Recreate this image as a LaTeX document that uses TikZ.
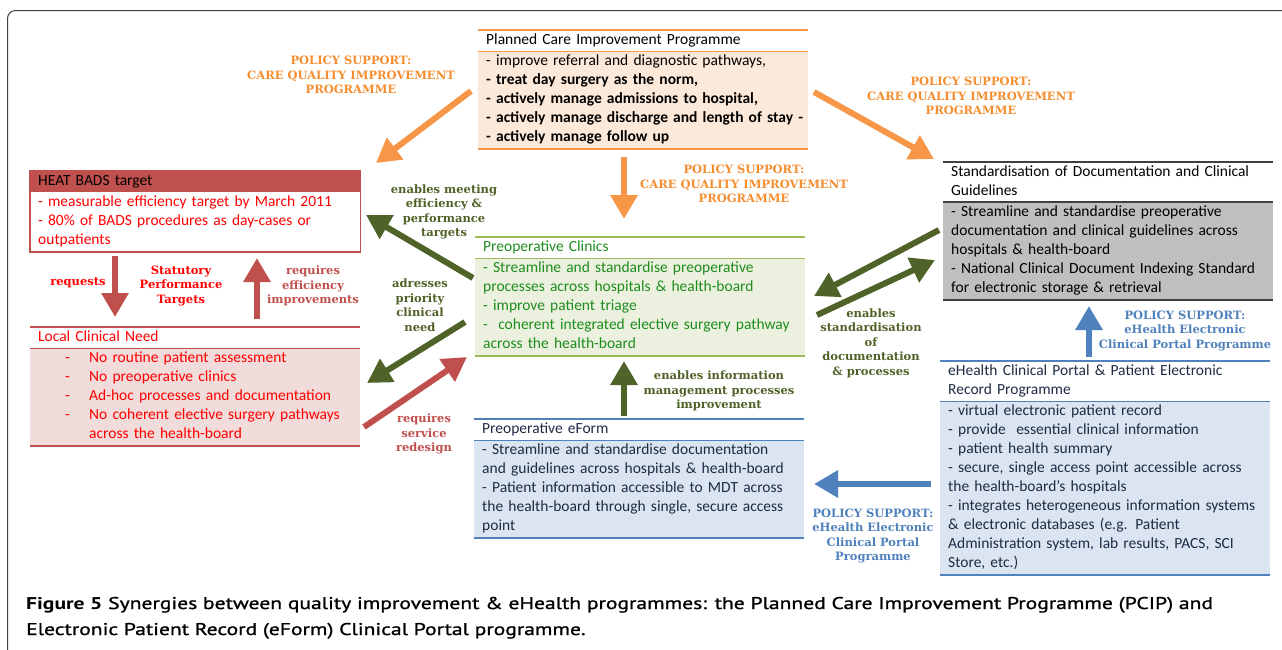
\documentclass[tikz,border=0pt]{standalone}
\usepackage{fontspec}
\usepackage{tikz}
\usetikzlibrary{arrows.meta,positioning}
\setmainfont{Carlito}
\newfontfamily\labelfont{DejaVu Serif}
\newfontfamily\capfont{PT Sans}[FakeStretch=1.27]
\newfontfamily\capsemi{PT Sans}[FakeStretch=1.27,FakeBold=1.2]
\definecolor{orangeline}{HTML}{F79646}
\definecolor{orangetext}{HTML}{F58E30}
\definecolor{peach}{HTML}{FDE9D9}
\definecolor{redline}{HTML}{C0504D}
\definecolor{redtext}{HTML}{FF0000}
\definecolor{pink}{HTML}{F2DCDB}
\definecolor{greenline}{HTML}{9BBB59}
\definecolor{greenfill}{HTML}{EBF1DE}
\definecolor{greentext}{HTML}{1E8C1E}
\definecolor{olive}{HTML}{4F6228}
\definecolor{blueline}{HTML}{4F81BD}
\definecolor{bluefill}{HTML}{DBE5F1}
\definecolor{navytext}{HTML}{1F2A44}
\definecolor{greyfill}{HTML}{BFBFBF}
\definecolor{framegrey}{HTML}{404040}
\newcommand\bodyfont{\fontsize{15.5}{19}\selectfont}
\newcommand\lblfont{\labelfont\bfseries\fontsize{11.5}{14.5}\selectfont}
\newcommand\litem{\hspace*{27pt}\makebox[24pt][l]{-}}
\begin{document}
\begin{tikzpicture}[x=1pt,y=-1pt,
  boxtitle/.style={rectangle,anchor=north west,inner xsep=8pt,inner ysep=1pt,
    text width=314pt,align=left,font=\bodyfont,
    execute at begin node=\strut,execute at end node=\strut},
  boxbody/.style={boxtitle,below=0pt of #1},
  bigarrow/.style={line width=6pt,-{Triangle[length=24pt,width=26pt]}},
  lbl/.style={font=\lblfont,align=center,inner sep=0pt}]
\useasboundingbox (0,0) rectangle (1282,649);
\clip (0,0) rectangle (1282,649);
\draw[framegrey,line width=1pt,rounded corners=8pt] (7.5,10.5) rectangle (1300,680);

% boxes
\node[boxtitle] (pcip) at (478,30) {Planned Care Improvement Programme};
\node[boxbody=pcip,fill=peach] (pcipbody) {- improve referral and diagnostic pathways,\\
  \textbf{- treat day surgery as the norm,}\\
  \textbf{- actively manage admissions to hospital,}\\
  \mbox{\textbf{- actively manage discharge and length of stay -}}\\
  \textbf{- actively manage follow up}};
\draw[orangeline,line width=1.5pt] (pcip.north west) -- (pcip.north east)
  (pcipbody.north west) -- (pcipbody.north east)
  (pcipbody.south west) -- (pcipbody.south east);

\node[boxtitle,fill=redline] (heat) at (30,171) {HEAT BADS target};
\node[boxbody=heat,text=redtext] (heatbody) {- measurable efficiency target by March 2011\\
  - 80\% of BADS procedures as day-cases or\\ outpatients};
\draw[redline,line width=1.5pt] (heat.north west) rectangle (heatbody.south east);

\node[boxtitle,text=redtext] (local) at (30,327) {Local Clinical Need};
\node[boxbody=local,fill=pink,text=redtext] (localbody) {\litem No routine patient assessment\\
  \litem No preoperative clinics\\
  \litem Ad-hoc processes and documentation\\
  \litem No coherent elective surgery pathways\\
  \hspace*{51pt}across the health-board};
\draw[redline,line width=1.5pt] (local.north west) -- (local.north east)
  (localbody.north west) -- (localbody.north east)
  (localbody.south west) -- (localbody.south east);

\node[boxtitle,text=greentext] (clinics) at (475,237) {Preoperative Clinics};
\node[boxbody=clinics,fill=greenfill,text=greentext] (clinicsbody) {- Streamline and standardise preoperative\\
  processes across hospitals \& health-board\\
  - improve patient triage\\
  -~ coherent integrated elective surgery pathway\\
  across the health-board};
\draw[greenline,line width=1.5pt] (clinics.north west) -- (clinics.north east)
  (clinicsbody.north west) -- (clinicsbody.north east)
  (clinicsbody.south west) -- (clinicsbody.south east);

\node[boxtitle,text=navytext] (eform) at (474,419) {Preoperative eForm};
\node[boxbody=eform,fill=bluefill,text=navytext] (eformbody) {- Streamline and standardise documentation\\
  and guidelines across hospitals \& health-board\\
  - Patient information accessible to MDT across\\
  the health-board through single, secure access\\
  point};
\draw[blueline,line width=1.8pt] (eform.north west) -- (eform.north east)
  (eformbody.north west) -- (eformbody.north east)
  (eformbody.south west) -- (eformbody.south east);

\node[boxtitle] (std) at (943,162) {Standardisation of Documentation and Clinical\\ Guidelines};
\node[boxbody=std,fill=greyfill] (stdbody) {- Streamline and standardise preoperative\\
  documentation and clinical guidelines across\\
  hospitals \& health-board\\
  - National Clinical Document Indexing Standard\\
  for electronic storage \& retrieval};
\draw[framegrey,line width=2pt] (std.north west) -- (std.north east)
  (stdbody.north west) -- (stdbody.north east)
  (stdbody.south west) -- (stdbody.south east);

\node[boxtitle,text=navytext] (ehealth) at (940,361) {eHealth Clinical Portal \& Patient Electronic\\ Record Programme};
\node[boxbody=ehealth,fill=bluefill,text=navytext] (ehealthbody) {- virtual electronic patient record\\
  - provide~ essential clinical information\\
  - patient health summary\\
  - secure, single access point accessible across\\
  the health-board’s hospitals\\
  - integrates heterogeneous information systems\\
  \& electronic databases (e.g. Patient\\
  Administration system, lab results, PACS, SCI\\
  Store, etc.)};
\draw[blueline,line width=1.8pt] (ehealth.north west) -- (ehealth.north east)
  (ehealthbody.north west) -- (ehealthbody.north east)
  (ehealthbody.south west) -- (ehealthbody.south east);

% arrow ends
\coordinate (pcipL) at (471,91);   \coordinate (heatT) at (376,163);
\coordinate (pcipR) at (814,92);   \coordinate (stdT) at (934,159);
\coordinate (pcipB) at (624,157);  \coordinate (clinicsT) at (624,219);
\coordinate (clinicsL) at (473,278); \coordinate (heatR) at (366,215);
\coordinate (clinicsLL) at (465,322); \coordinate (localR) at (367,383);
\coordinate (localRR) at (364,427); \coordinate (clinicsLB) at (467,357);
\coordinate (heatB) at (115,256);  \coordinate (localT) at (115,317);
\coordinate (localTT) at (257,319); \coordinate (heatBB) at (257,258);
\coordinate (stdL) at (939,230);   \coordinate (clinicsR) at (814,296);
\coordinate (clinicsRR) at (817,315); \coordinate (stdLL) at (935,260);
\coordinate (eformT) at (624,416); \coordinate (clinicsB) at (624,361);
\coordinate (ehealthT) at (1089,357); \coordinate (stdB) at (1089,306);
\coordinate (ehealthL) at (931,484); \coordinate (eformR) at (814,484);

\draw[bigarrow,orangeline] (pcipL) -- (heatT);
\draw[bigarrow,orangeline] (pcipR) -- (stdT);
\draw[bigarrow,orangeline] (pcipB) -- (clinicsT);
\draw[bigarrow,olive] (clinicsL) -- (heatR);
\draw[bigarrow,olive] (clinicsLL) -- (localR);
\draw[bigarrow,redline] (localRR) -- (clinicsLB);
\draw[bigarrow,redline] (heatB) -- (localT);
\draw[bigarrow,redline] (localTT) -- (heatBB);
\draw[bigarrow,olive] (stdL) -- (clinicsR);
\draw[bigarrow,olive] (clinicsRR) -- (stdLL);
\draw[bigarrow,olive] (eformT) -- (clinicsB);
\draw[bigarrow,blueline] (ehealthT) -- (stdB);
\draw[bigarrow,blueline] (ehealthL) -- (eformR);

% labels
\node[lbl,text=orangetext] (policy1) at (351,75) {POLICY SUPPORT:\\ CARE QUALITY IMPROVEMENT\\ PROGRAMME};
\node[lbl,text=orangetext] (policy2) at (971,96) {POLICY SUPPORT:\\ CARE QUALITY IMPROVEMENT\\ PROGRAMME};
\node[lbl,text=orangetext] (policy3) at (744,184) {POLICY SUPPORT:\\ CARE QUALITY IMPROVEMENT\\ PROGRAMME};
\node[lbl,text=olive] (meeting) at (444,212) {enables meeting\\ efficiency \&\\ performance\\ targets};
\node[lbl,text=olive] (priority) at (420,305) {adresses\\ priority\\ clinical\\ need};
\node[lbl,text=redline] (redesign) at (424,434) {requires\\ service\\ redesign};
\node[lbl,text=redtext] (requests) at (78,283) {requests};
\node[lbl,text=redtext] (statutory) at (181,286) {Statutory\\ Performance\\ Targets};
\node[lbl,text=redline] (efficiency) at (313,286) {requires\\ efficiency\\ improvements};
\node[lbl,text=olive] (standard) at (871,343) {enables\\ standardisation\\ of\\ documentation\\ \& processes};
\node[lbl,text=olive] (infomgmt) at (719,391) {enables information\\ management processes\\ improvement};
\node[lbl,text=blueline] (policy4) at (1185,331) {POLICY SUPPORT:\\ eHealth Electronic\\ Clinical Portal Programme};
\node[lbl,text=blueline] (policy5) at (873,536) {POLICY SUPPORT:\\ eHealth Electronic\\ Clinical Portal\\ Programme};

% caption
\node[anchor=base west,inner sep=0pt,font=\capsemi\fontsize{17}{26}\selectfont] (cap) at (26,609)
  {{\capfont\bfseries Figure 5} Synergies between quality improvement \& eHealth programmes: the Planned Care Improvement Programme (PCIP) and};
\node[anchor=base west,inner sep=0pt,font=\capsemi\fontsize{17}{26}\selectfont] (cap2) at ([yshift=-26pt]cap.base west)
  {Electronic Patient Record (eForm) Clinical Portal programme.};
\end{tikzpicture}
\end{document}
